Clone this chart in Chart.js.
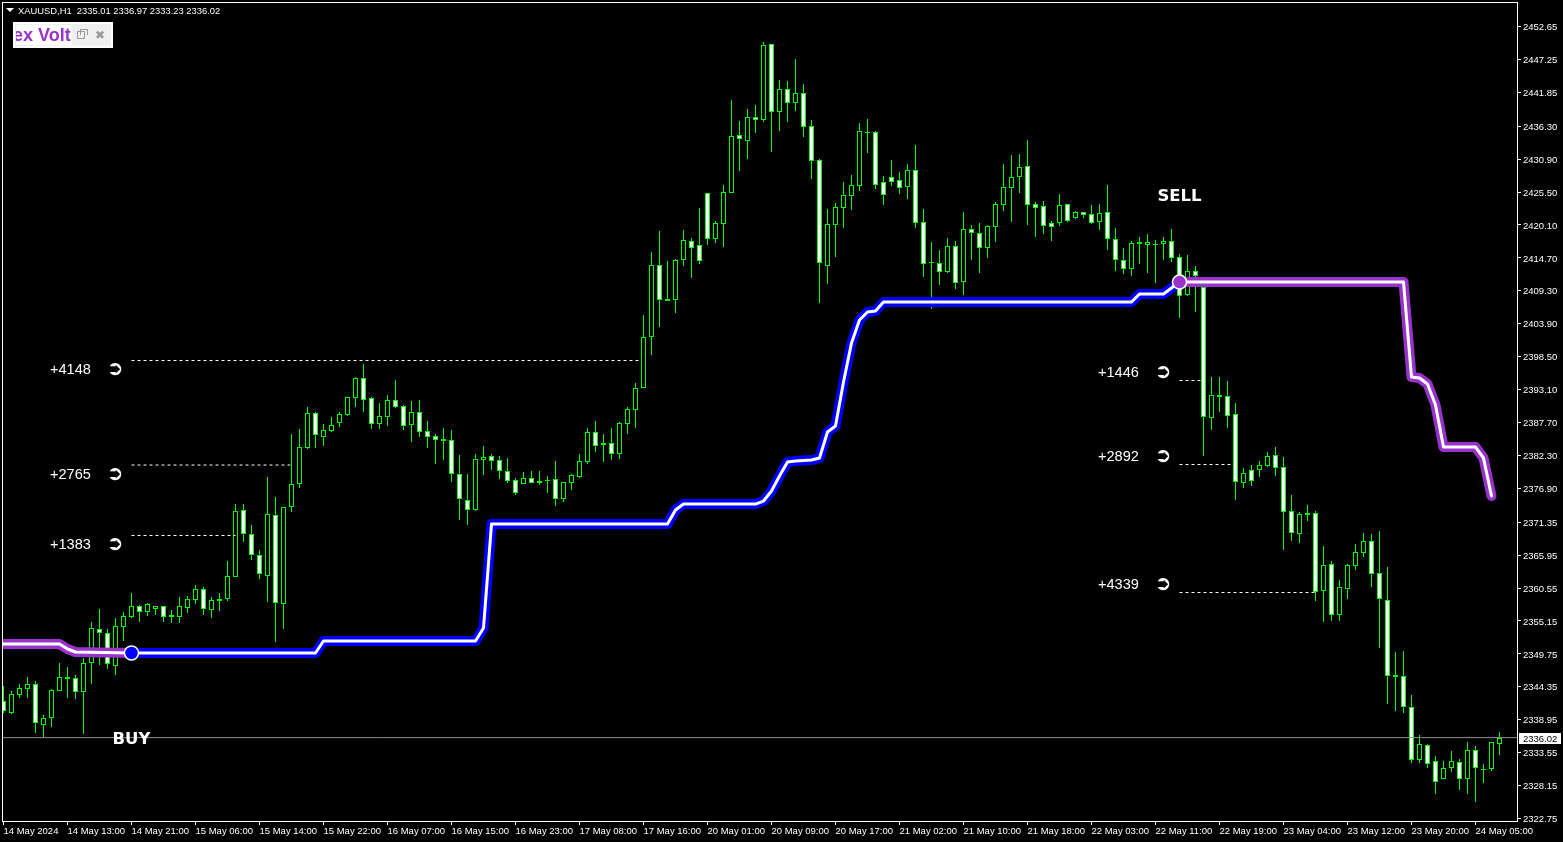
<!DOCTYPE html>
<html>
<head>
<meta charset="utf-8">
<title>XAUUSD,H1</title>
<script src="https://cdn.jsdelivr.net/npm/chart.js@4/dist/chart.umd.min.js"></script>
<style>
  html, body { margin: 0; background: #000; overflow: hidden; }
  #wrap { position: relative; width: 1563px; height: 842px; }
  canvas { display: block; }
  #head { position: absolute; left: 6px; top: 4px; color: #fff; font: 9.4px "Liberation Sans", sans-serif; white-space: pre; line-height: 13px; }
  #head i { display: inline-block; width: 0; height: 0; border: 4px solid transparent; border-top: 4px solid #fff; border-bottom: 0; margin: 0 4px 2px 0; }
  #panel { position: absolute; left: 13px; top: 22px; width: 96px; height: 22px; border: 2px solid #fff; background: #f0f0f0; }
  #panelText { position: absolute; left: 1px; top: 1px; width: 56px; height: 20px; background: #fff; overflow: hidden; color: #9932cc; font: bold 18px/20px "Liberation Sans", sans-serif; white-space: nowrap; }
  #panelText span { margin-left: -3px; }
  #restore { position: absolute; left: 62px; top: 7px; width: 6px; height: 6px; border: 1px solid #999; background: #f0f0f0; }
  #restore:after { content: ''; position: absolute; left: 2px; top: -3px; width: 6px; height: 5px; border: 1px solid #999; border-bottom: 0; }
  #close { position: absolute; left: 80px; top: 2px; color: #999; font: 12px/18px "DejaVu Sans", sans-serif; }
</style>
</head>
<body>
<div id="wrap">
  <canvas id="zoneChart" width="1563" height="842"></canvas>
  <div id="head"><i></i>XAUUSD,H1  2335.01 2336.97 2333.23 2336.02</div>
  <div id="panel">
    <div id="panelText"><span>ex Volt</span></div>
    <div id="restore"></div>
    <div id="close">✖</div>
  </div>
</div>
<script>
/* Bougies H1 */
const opens = [
  2342.02,2340.10,2343.01,2344.04,2344.76,2338.13,2339.28,2343.71,2345.65,2345.75,
  2343.55,2348.30,2353.78,2353.13,2347.81,2354.21,2355.85,2357.55,2356.67,2357.06,
  2357.55,2355.80,2355.85,2357.33,2358.64,2360.34,2357.00,2358.50,2358.80,2362.41,
  2373.30,2369.36,2365.92,2362.57,2372.48,2357.88,2373.79,2377.57,2383.57,2389.21,
  2385.37,2386.36,2387.67,2388.98,2391.77,2394.95,2391.67,2387.50,2388.65,2391.34,
  2390.36,2387.34,2389.37,2386.26,2385.44,2384.70,2384.78,2379.21,2374.94,2373.35,
  2381.60,2382.16,2381.50,2379.70,2378.22,2377.66,2378.55,2377.80,2378.10,2378.39,
  2375.20,2377.83,2378.81,2381.27,2386.09,2384.05,2384.29,2382.58,2387.50,2389.80,
  2393.41,2401.77,2413.49,2407.70,2407.84,2414.40,2417.42,2416.77,2425.30,2417.75,
  2420.31,2425.39,2434.81,2433.92,2437.76,2437.37,2449.73,2438.68,2442.35,2440.16,
  2441.70,2436.28,2430.71,2413.42,2420.14,2422.93,2424.90,2426.54,2435.15,2435.30,
  2427.10,2427.92,2427.43,2426.38,2429.07,2420.54,2413.80,2413.81,2412.39,2416.60,
  2410.80,2419.39,2418.73,2416.37,2419.82,2423.43,2426.21,2428.02,2429.72,2423.49,
  2423.16,2420.37,2420.47,2423.49,2421.29,2422.18,2421.85,2420.64,2422.18,2417.75,
  2414.31,2412.93,2417.00,2416.86,2416.80,2417.03,2417.42,2414.80,2408.66,2412.50,
  2409.98,2388.49,2391.95,2392.00,2389.05,2377.83,2379.86,2379.96,2380.57,2382.32,
  2380.35,2373.14,2369.46,2372.55,2372.81,2360.11,2364.44,2356.18,2360.44,2364.21,
  2366.35,2368.22,2362.97,2358.54,2346.00,2346.07,2340.99,2332.30,2334.76,2332.13,
  2329.18,2330.98,2331.97,2329.18,2333.94,2330.70,2330.82,2335.01
]
const highs = [
  2344.48,2343.66,2344.76,2346.01,2345.30,2339.73,2343.99,2348.30,2347.65,2346.29,
  2349.13,2354.93,2357.06,2353.83,2355.64,2356.62,2359.74,2357.77,2358.05,2357.60,
  2357.60,2356.95,2359.08,2359.24,2361.05,2360.77,2359.03,2359.69,2364.99,2374.38,
  2374.33,2370.89,2366.79,2378.76,2375.43,2373.84,2385.82,2386.64,2390.20,2389.37,
  2387.46,2388.55,2389.37,2391.88,2395.16,2397.30,2391.88,2390.90,2392.21,2394.67,
  2390.57,2391.23,2391.39,2387.95,2385.82,2386.80,2386.47,2382.37,2379.25,2382.53,
  2383.85,2382.53,2382.21,2381.88,2378.55,2379.58,2379.75,2379.75,2378.93,2381.39,
  2377.94,2379.25,2382.53,2386.80,2387.95,2385.82,2386.80,2387.78,2390.24,2394.18,
  2405.33,2415.67,2419.11,2414.19,2414.52,2419.28,2417.96,2422.88,2425.34,2420.75,
  2426.66,2440.60,2437.15,2439.12,2439.78,2450.11,2449.78,2443.88,2443.71,2447.32,
  2443.22,2437.32,2430.92,2422.72,2423.70,2427.15,2428.30,2436.83,2437.48,2435.51,
  2428.13,2430.76,2428.79,2430.10,2433.22,2422.72,2417.31,2415.99,2417.96,2417.47,
  2422.23,2420.10,2420.42,2420.10,2423.87,2430.10,2431.58,2431.74,2434.04,2423.87,
  2424.03,2420.75,2425.18,2423.54,2422.39,2422.23,2423.38,2423.54,2426.66,2419.60,
  2416.32,2417.47,2418.13,2418.62,2417.64,2418.13,2419.44,2415.34,2415.17,2413.37,
  2410.09,2395.16,2395.16,2394.51,2390.90,2380.24,2380.73,2381.39,2382.86,2383.68,
  2382.04,2375.81,2373.02,2374.17,2373.19,2367.45,2364.99,2361.87,2364.49,2367.77,
  2369.58,2369.41,2369.91,2364.00,2350.06,2350.22,2343.01,2336.45,2334.97,2333.00,
  2332.18,2333.82,2332.51,2335.30,2334.64,2331.69,2335.30,2336.97
]
const lows = [
  2340.05,2339.94,2342.56,2342.56,2336.82,2336.17,2337.81,2343.60,2342.56,2342.40,
  2336.61,2344.81,2347.93,2347.27,2346.29,2351.81,2355.68,2355.03,2356.01,2356.18,
  2355.03,2354.87,2354.87,2356.51,2357.93,2356.18,2355.68,2356.83,2358.47,2362.41,
  2368.15,2365.15,2362.08,2358.31,2351.75,2353.88,2373.07,2377.01,2383.41,2383.57,
  2383.85,2386.19,2387.01,2388.82,2390.24,2389.47,2386.68,2386.68,2387.13,2390.13,
  2386.47,2384.50,2385.32,2383.52,2380.89,2381.55,2377.94,2371.71,2370.89,2373.19,
  2379.09,2379.91,2378.43,2377.78,2375.81,2377.60,2377.80,2377.45,2376.14,2374.01,
  2374.66,2376.63,2378.60,2380.94,2382.86,2381.22,2381.55,2381.71,2385.82,2386.80,
  2393.35,2398.77,2403.42,2407.63,2405.66,2413.37,2411.45,2413.70,2416.82,2417.14,
  2416.54,2425.35,2428.95,2430.92,2435.19,2437.04,2432.07,2435.51,2436.99,2438.79,
  2434.53,2427.64,2407.30,2410.42,2414.85,2419.60,2422.56,2425.67,2431.90,2426.00,
  2423.38,2426.49,2425.18,2424.36,2419.60,2411.57,2406.32,2410.25,2412.22,2409.60,
  2408.61,2414.35,2412.22,2414.68,2417.31,2422.39,2420.59,2425.34,2420.10,2418.13,
  2418.62,2417.47,2419.93,2420.59,2421.08,2421.24,2420.26,2419.28,2415.99,2412.55,
  2412.06,2411.73,2413.70,2412.22,2410.58,2414.35,2414.03,2404.84,2408.45,2405.83,
  2382.21,2386.47,2389.42,2386.80,2374.99,2376.96,2377.29,2378.76,2380.40,2378.93,
  2366.79,2368.27,2367.94,2371.55,2358.42,2354.98,2355.14,2355.14,2358.75,2363.51,
  2365.64,2360.72,2350.71,2341.53,2340.38,2340.05,2331.85,2331.85,2331.03,2326.77,
  2329.15,2330.38,2327.42,2326.77,2325.46,2328.57,2330.54,2333.23
]
const closes = [
  2340.38,2343.12,2344.10,2344.76,2338.36,2339.18,2343.83,2345.91,2345.90,2343.55,
  2348.21,2353.95,2353.13,2348.04,2354.32,2355.92,2357.55,2356.57,2357.88,2357.55,
  2355.85,2356.05,2357.55,2358.75,2360.34,2357.06,2358.54,2358.75,2362.48,2373.14,
  2369.36,2365.92,2362.80,2372.65,2358.05,2373.79,2377.57,2383.63,2389.21,2385.60,
  2386.42,2387.24,2389.05,2391.84,2394.95,2391.44,2387.50,2388.72,2391.34,2390.29,
  2387.18,2389.37,2386.19,2385.37,2384.88,2384.95,2379.30,2375.20,2373.40,2381.67,
  2381.99,2381.44,2379.80,2378.16,2376.19,2378.55,2377.83,2378.05,2378.35,2375.20,
  2377.89,2379.04,2381.34,2386.09,2383.90,2384.30,2382.58,2387.57,2389.87,2393.31,
  2401.68,2413.49,2407.84,2407.95,2414.31,2417.59,2416.40,2414.24,2417.85,2420.37,
  2425.46,2434.64,2434.25,2437.76,2437.37,2449.57,2438.68,2442.35,2440.16,2441.70,
  2436.22,2430.64,2413.91,2420.21,2423.00,2424.97,2426.61,2435.46,2435.40,2426.71,
  2425.07,2427.20,2426.21,2429.07,2420.47,2413.75,2414.05,2412.44,2416.60,2410.63,
  2419.39,2418.83,2416.37,2419.88,2423.49,2426.28,2427.92,2429.56,2423.43,2422.93,
  2419.98,2419.82,2423.33,2420.80,2422.18,2421.79,2420.47,2422.01,2417.85,2414.31,
  2412.93,2417.09,2417.25,2417.26,2417.05,2417.42,2414.73,2408.50,2412.50,2411.78,
  2388.65,2392.16,2392.20,2388.82,2377.99,2379.37,2378.16,2380.68,2382.16,2380.29,
  2373.07,2369.63,2372.65,2372.80,2359.95,2364.28,2356.18,2360.67,2364.28,2366.41,
  2368.22,2362.80,2358.70,2346.07,2346.25,2340.99,2332.30,2334.92,2331.64,2328.69,
  2330.98,2332.13,2329.18,2333.94,2330.98,2330.95,2335.25,2336.02
]

/* Ligne de l'indicateur : trois tronçons (index de bougie, prix) */
const sellStartX = [0,7,8,9,16]
const sellStartY = [2351.37,2351.37,2350.55,2350.06,2349.89]
const buyX = [16,39,40,59,60,61,83,84,85,94,95,96,97,98,99,101,102,103,104,105,106,107,108,109,110,141,142,145,146,147]
const buyY = [2349.89,2349.89,2351.86,2351.86,2353.99,2371.05,2371.05,2373.35,2374.33,2374.33,2374.82,2376.46,2378.93,2381.22,2381.38,2381.55,2381.88,2386.14,2387.13,2394.34,2400.74,2404.51,2405.82,2405.99,2407.46,2407.46,2408.78,2408.78,2409.76,2410.74]
const sellX = [147,175,176,177,178,179,180,184,185,186]
const sellY = [2410.74,2410.74,2395.16,2395.00,2394.02,2390.57,2383.68,2383.68,2381.88,2375.64]

/* Niveaux pointillés et gains */
const levelStart = [16,16,16,147,147,147]
const levelEnd = [79.6,36,29,150,154,164]
const levelPrice = [2397.87,2380.73,2369.17,2394.59,2380.81,2359.82]
const gainText = ['+4148','+2765','+1383','+1446','+2892','+4339']
const gainX = [5.81,5.81,5.81,136.81,136.81,136.81]
const gainY = [2396.32,2379.09,2367.61,2395.82,2382.05,2361.05]
const arrowX = [13.94,13.94,13.94,144.94,144.94,144.94]

const signalText = ['BUY','SELL']
const signalX = [16,147]
const signalPrice = [2349.89,2410.74]
const signalTextY = [2335.65,2424.72]

const lastPrice = 2336.02
const xMin = -0.0625
const xMax = 189.1875

const priceTicks = [2322.75,2328.15,2333.55,2338.95,2344.35,2349.75,2355.15,2360.55,2365.95,2371.35,2376.90,2382.30,2387.70,2393.10,2398.50,2403.90,2409.30,2414.70,2420.10,2425.50,2430.90,2436.30,2441.85,2447.25,2452.65]
const timeLabels = ['14 May 2024','14 May 13:00','14 May 21:00','15 May 06:00','15 May 14:00','15 May 22:00','16 May 07:00','16 May 15:00','16 May 23:00','17 May 08:00','17 May 16:00','20 May 01:00','20 May 09:00','20 May 17:00','21 May 02:00','21 May 10:00','21 May 18:00','22 May 03:00','22 May 11:00','22 May 19:00','23 May 04:00','23 May 12:00','23 May 20:00','24 May 05:00']

const GREEN = '#00ff00'
const BLUE = '#0000ff'
const PURPLE = '#9932cc'
const TICK_FONT = { family: '"Liberation Sans"', size: 9.5 }

const toPoints = (xs, ys) => xs.map((x, i) => ({ x: x, y: ys[i] }))

const thickLine = (xs, ys, color, width, order) => ({
  type: 'line',
  data: toPoints(xs, ys),
  borderColor: color,
  borderWidth: width,
  borderCapStyle: 'round',
  borderJoinStyle: 'round',
  pointRadius: 0,
  order: order,
})

const signalDot = (i, color) => ({
  type: 'line',
  data: [{ x: signalX[i], y: signalPrice[i] }],
  showLine: false,
  pointRadius: 7,
  pointBackgroundColor: color,
  pointBorderColor: '#fff',
  pointBorderWidth: 1.5,
  order: 0,
})

let datasets = [
  {
    type: 'bar',
    data: highs.map((h, i) => ({ x: i, y: [lows[i], h] })),
    backgroundColor: GREEN,
    borderWidth: 0,
    barThickness: 1,
    grouped: false,
    inflateAmount: 0,
    order: 6,
  },
  {
    type: 'bar',
    data: opens.map((o, i) => ({ x: i, y: [o, closes[i]] })),
    backgroundColor: opens.map((o, i) => closes[i] < o ? '#fff' : '#000'),
    borderColor: GREEN,
    borderWidth: 1,
    borderSkipped: false,
    barThickness: 5,
    grouped: false,
    inflateAmount: 0,
    order: 5,
  },
  thickLine([xMin, xMax], [lastPrice, lastPrice], '#8a8f94', 1, 4),
]

/* Pointillés */
levelPrice.forEach((p, i) => {
  datasets.push({
    type: 'line',
    data: [{ x: levelStart[i], y: p }, { x: levelEnd[i], y: p }],
    borderColor: '#fff',
    borderWidth: 1,
    borderDash: [3, 3],
    pointRadius: 0,
    order: 3,
  })
})

datasets.push(thickLine(sellStartX, sellStartY, PURPLE, 10, 2))
datasets.push(thickLine(buyX, buyY, BLUE, 10, 2))
datasets.push(thickLine(sellX, sellY, PURPLE, 10, 2))
datasets.push(thickLine(sellStartX, sellStartY, '#fff', 3, 1))
datasets.push(thickLine(buyX, buyY, '#fff', 3, 1))
datasets.push(thickLine(sellX, sellY, '#fff', 3, 1))
datasets.push(signalDot(0, BLUE))
datasets.push(signalDot(1, PURPLE))

/* Bords des bougies calés sur le pixel, comme dans MT4 */
const snapBars = {
  id: 'snapBars',
  beforeDatasetsDraw(chart) {
    chart.getSortedVisibleDatasetMetas().forEach(meta => {
      if (meta.type !== 'bar') return
      meta.data.forEach(bar => {
        bar.y = Math.round(bar.y)
        bar.base = Math.round(bar.base)
      })
    })
  },
}

/* Cadre, textes et étiquette du dernier prix */
const overlay = {
  id: 'overlay',
  afterDraw(chart) {
    const ctx = chart.ctx
    const x = chart.scales.x
    const y = chart.scales.y
    const area = chart.chartArea
    ctx.save()
    ctx.strokeStyle = '#fff'
    ctx.lineWidth = 1
    ctx.strokeRect(area.left - 0.5, area.top - 0.5, area.right - area.left + 1, area.bottom - area.top + 1)

    ctx.fillStyle = '#fff'
    ctx.textBaseline = 'middle'
    gainText.forEach((t, i) => {
      ctx.textAlign = 'left'
      ctx.font = '14.6px "Liberation Sans"'
      ctx.fillText(t, x.getPixelForValue(gainX[i]), y.getPixelForValue(gainY[i]))
      ctx.textAlign = 'center'
      ctx.font = 'bold 20px "DejaVu Sans"'
      ctx.fillText('➲', x.getPixelForValue(arrowX[i]), y.getPixelForValue(gainY[i]))
    })

    ctx.textAlign = 'center'
    ctx.font = 'bold 16.5px "DejaVu Sans"'
    signalText.forEach((t, i) => {
      ctx.fillText(t, x.getPixelForValue(signalX[i]), y.getPixelForValue(signalTextY[i]))
    })

    const tagY = Math.round(y.getPixelForValue(lastPrice))
    ctx.fillRect(1519, tagY - 5, 42, 11)
    ctx.fillStyle = '#000'
    ctx.textAlign = 'left'
    ctx.font = '9.5px "Liberation Sans"'
    ctx.fillText(lastPrice.toFixed(2), 1523, tagY + 1)
    ctx.restore()
  },
}

const noMargins = axis => {
  axis.paddingLeft = 0
  axis.paddingRight = 0
  axis.paddingTop = 0
  axis.paddingBottom = 0
}

new Chart(document.querySelector('#zoneChart'), {
  data: { datasets: datasets },
  plugins: [snapBars, overlay],
  options: {
    responsive: false,
    animation: false,
    events: [],
    layout: { autoPadding: false, padding: { left: 3, top: 3, right: 0, bottom: 0 } },
    plugins: { legend: { display: false }, tooltip: { enabled: false } },
    scales: {
      x: {
        type: 'linear',
        offset: false,
        min: xMin,
        max: xMax,
        afterBuildTicks: axis => { axis.ticks = timeLabels.map((t, i) => ({ value: i * 8 })) },
        afterFit: axis => { axis.height = 21; noMargins(axis) },
        grid: { drawOnChartArea: false, offset: false, color: '#fff', tickLength: 4 },
        border: { display: false },
        ticks: {
          color: '#fff',
          font: TICK_FONT,
          align: 'start',
          autoSkip: false,
          maxRotation: 0,
          padding: 1,
          callback: v => timeLabels[v / 8],
        },
      },
      y: {
        type: 'linear',
        position: 'right',
        min: 2322.34,
        max: 2456.51,
        afterBuildTicks: axis => { axis.ticks = priceTicks.map(v => ({ value: v })) },
        afterFit: axis => { axis.width = 46; noMargins(axis) },
        grid: { drawOnChartArea: false, color: '#fff', tickLength: 4 },
        border: { display: false },
        ticks: {
          color: '#fff',
          font: TICK_FONT,
          padding: 2,
          labelOffset: 1,
          autoSkip: false,
          callback: v => v.toFixed(2),
        },
      },
    },
  },
})
</script>
</body>
</html>
